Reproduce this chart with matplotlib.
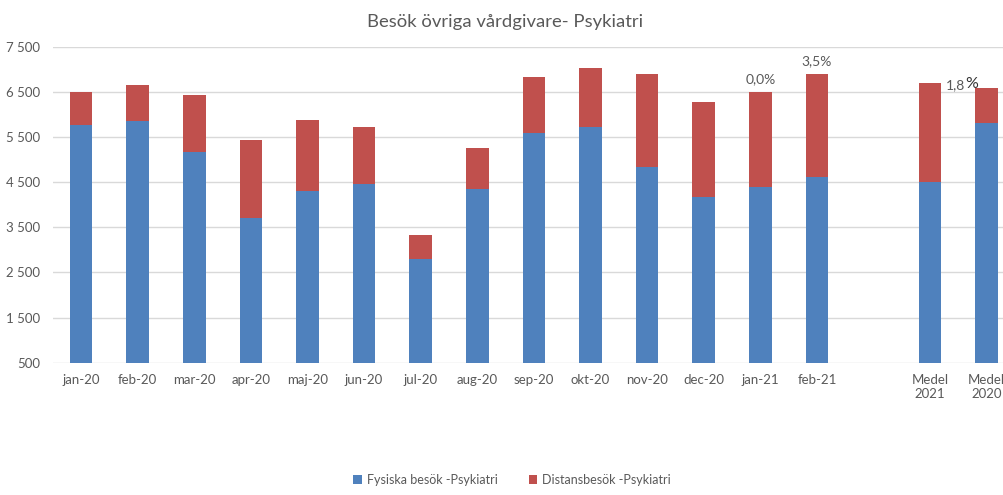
import numpy as np
import matplotlib
matplotlib.use("Agg")
import matplotlib.pyplot as plt
from matplotlib.ticker import FuncFormatter

plt.rcParams['font.family'] = ['Lato', 'DejaVu Sans']

categories = ['jan-20', 'feb-20', 'mar-20', 'apr-20', 'maj-20', 'jun-20', 'jul-20',
              'aug-20', 'sep-20', 'okt-20', 'nov-20', 'dec-20', 'jan-21', 'feb-21',
              '', 'Medel\n2021', 'Medel\n2020']
fysiska = [5765, 5860, 5167, 3705, 4303, 4465, 2790, 4347, 5581, 5727, 4828,
           4170, 4398, 4613, 0, 4509, 5809]
totals = [6496, 6658, 6430, 5440, 5876, 5727, 3329, 5262, 6822, 7028, 6888,
          6275, 6496, 6888, 0, 6689, 6578]
distans = [t - f for t, f in zip(totals, fysiska)]

pct_labels = {12: '0,0%', 13: '3,5%'}

blue = '#4F81BD'
red = '#C0504D'
grey = '#595959'

fig = plt.figure(figsize=(10.04, 4.95), dpi=100)
ax = fig.add_axes([0.0525, 0.2673, 0.9585, 0.6384])

x = np.arange(len(categories))
ax.bar(x, fysiska, width=0.4, color=blue, label='Fysiska besök -Psykiatri', zorder=3)
ax.bar(x, distans, width=0.4, bottom=fysiska, color=red,
       label='Distansbesök -Psykiatri', zorder=3)

ax.set_ylim(500, 7500)
ax.set_xlim(-0.5, len(categories) - 0.5)
ax.set_yticks(np.arange(500, 7501, 1000))
ax.yaxis.set_major_formatter(FuncFormatter(lambda v, p: f'{int(v):,}'.replace(',', ' ')))
ax.set_xticks(x)
ax.set_xticklabels(categories)
ax.tick_params(axis='both', length=0, colors=grey, labelsize=9.5)
ax.tick_params(axis='x', pad=8)
ax.tick_params(axis='y', pad=9)
ax.grid(axis='y', color='#d9d9d9', linewidth=1, zorder=0)
for s in ax.spines.values():
    s.set_visible(False)

for i, txt in pct_labels.items():
    ax.annotate(txt, (x[i], totals[i]), xytext=(0, 5), textcoords='offset points',
                ha='center', va='bottom', fontsize=10, color=grey)

t = ax.annotate('1,8', (x[15] + 0.28, totals[15]), xytext=(0, -1),
                textcoords='offset points', ha='left', va='center',
                fontsize=10, color=grey)
ax.annotate('%', xy=(1, 0), xycoords=t, ha='left', va='bottom',
            fontsize=11.5, color='#333333')

ax.set_title('Besök övriga vårdgivare- Psykiatri', fontsize=13.3, color=grey, pad=14,
             x=(0.503 - 0.0525) / 0.9585)

fig.legend(loc='lower center', bbox_to_anchor=(0.51, -0.005), ncol=2, frameon=False,
           fontsize=9, labelcolor=grey, handlelength=0.7, handleheight=0.7,
           columnspacing=2.5, handletextpad=0.4)

fig.savefig('out.png', dpi=100)
